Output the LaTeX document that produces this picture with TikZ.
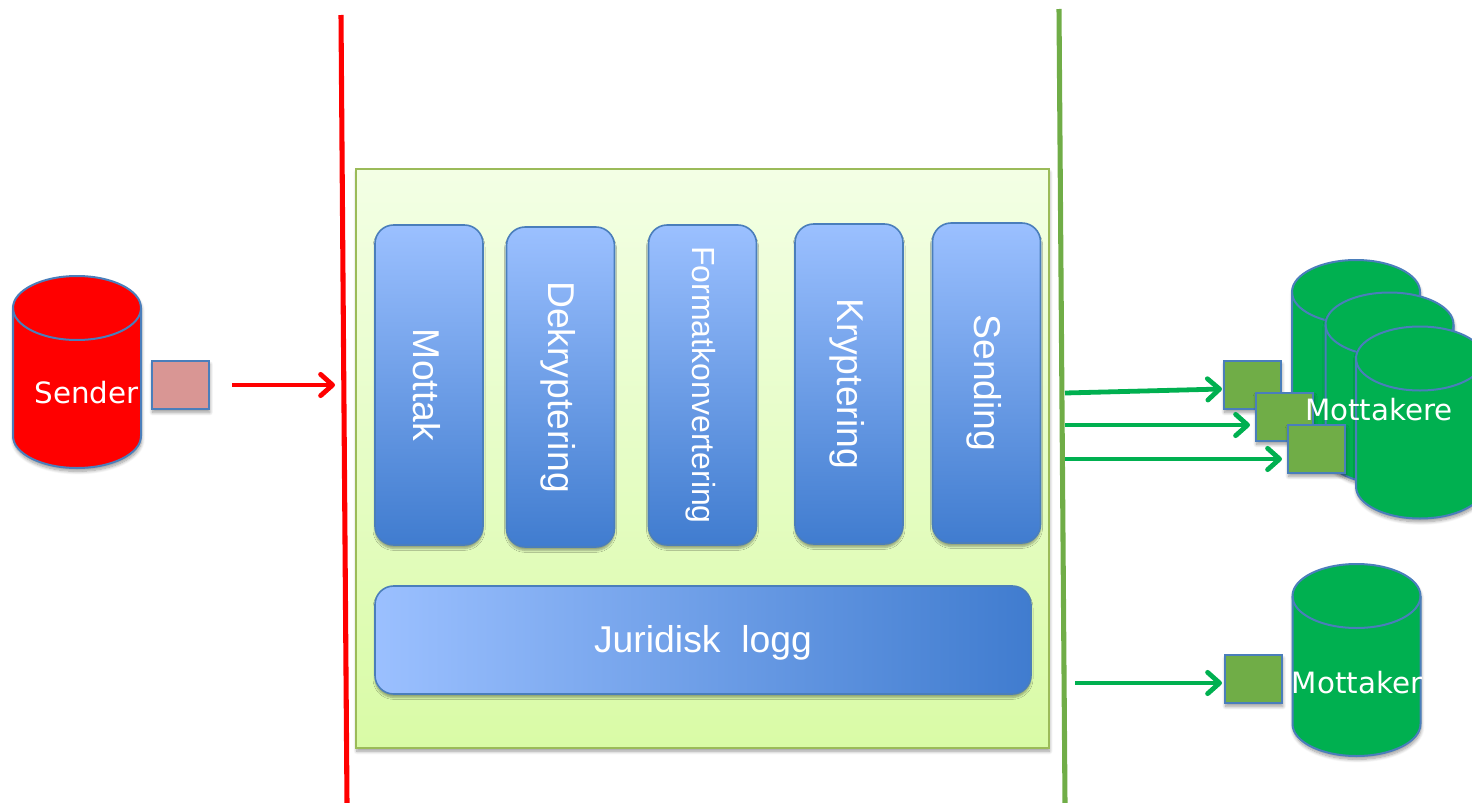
\documentclass[tikz,border=0pt]{standalone}
\usepackage{fontspec}
\usepackage{graphicx}
\setmainfont{Liberation Sans}
\newfontfamily\labelfont{DejaVu Sans}
\usetikzlibrary{arrows.meta, shadows, shadows.blur}

\definecolor{redfill}{HTML}{FF0000}
\definecolor{greenfill}{HTML}{00B050}
\definecolor{edgeblue}{HTML}{4A7EBB}
\definecolor{linegreen}{HTML}{70AD47}
\definecolor{panelline}{HTML}{9BBB59}
\definecolor{msgred}{HTML}{D99694}
\definecolor{stagetop}{HTML}{9BC0FF}
\definecolor{stagebottom}{HTML}{407CCF}
\definecolor{paneltop}{HTML}{F3FFE5}
\definecolor{panelbottom}{HTML}{D9FBA6}

\newcommand{\vtext}[1]{\hspace*{-3pt}\rotatebox{-90}{#1}}

\tikzset{
    softshadow/.style={blur shadow={shadow xshift=0.5pt, shadow yshift=-2.5pt, shadow blur radius=2.5pt, shadow blur steps=8, shadow opacity=40}},
    boxshadow/.style={blur shadow={shadow xshift=0pt, shadow yshift=-2.5pt, shadow blur radius=1.5pt, shadow blur steps=6, shadow opacity=35}},
    drumline/.style={draw=edgeblue, line width=1.5pt},
    stagebase/.style={rectangle, rounded corners=14pt, draw=edgeblue, line width=1.2pt, inner sep=0pt, text=white, font=\fontsize{28}{30}\selectfont, boxshadow},
    stagebox/.style={stagebase, minimum width=81pt, minimum height=240pt, top color=stagetop, bottom color=stagebottom},
    msg/.style={rectangle, draw=edgeblue, line width=1.4pt, inner sep=0pt, minimum width=43pt, minimum height=36pt, softshadow},
    drumlabel/.style={text=white, inner sep=0pt, font=\labelfont\fontsize{22}{24}\selectfont},
    sendarrow/.style={line width=3.6pt, -{Straight Barb[length=9pt, width=16pt, line width=3.6pt, line cap=round, line join=round]}},
}

% name, x, y, colour
\newcommand{\drum}[4]{%
    \coordinate (#1) at (#2, #3);
    \draw[drumline, fill=#4, softshadow] (#1) ++(-64, -64) arc[start angle=180, end angle=0, x radius=48pt, y radius=24pt] -- ++(0, 128) arc[start angle=0, end angle=-180, x radius=48pt, y radius=24pt] -- cycle;
    \draw[drumline] (#1) ++(-64, -64) arc[start angle=180, end angle=360, x radius=48pt, y radius=24pt];
}

\begin{document}
\begin{tikzpicture}[x=0.75pt, y=-0.75pt]
        \useasboundingbox (0, 0) rectangle (1472, 803);
        \clip (0, 0) rectangle (1472, 803);

        %panel
        \node[rectangle, draw=panelline, line width=1.2pt, inner sep=0pt, minimum width=519.5pt, minimum height=434pt, top color=paneltop, bottom color=panelbottom, softshadow] (panel) at (702.5, 458.5) {};

        %stages
        \node[stagebox] (mottak) at (429, 385) {\vtext{Mottak}};
        \node[stagebox] (dekrypt) at (560.5, 387) {\vtext{Dekryptering}};
        \node[stagebox, font=\fontsize{24}{26}\selectfont] (format) at (702.5, 385) {\vtext{Formatkonvertering}};
        \node[stagebox] (krypt) at (849, 384) {\vtext{Kryptering}};
        \node[stagebox] (sending) at (986.5, 383) {\vtext{Sending}};
        \node[stagebase, minimum width=492pt, minimum height=81pt, left color=stagetop, right color=stagebottom] (logg) at (703, 640) {\raisebox{-9.5pt}[0pt][0pt]{Juridisk\ \ logg}};

        %drums
        \drum{sender}{77}{372}{redfill}
        \drum{mottaker1}{1356}{356}{greenfill}
        \drum{mottaker2}{1389.5}{388.5}{greenfill}
        \drum{mottaker3}{1420}{422.5}{greenfill}
        \drum{mottaker}{1356.5}{660}{greenfill}

        %messages
        \node[msg, fill=msgred] (msgout) at (180.5, 385) {};
        \node[msg, fill=linegreen] (msga) at (1252.5, 385) {};
        \node[msg, fill=linegreen] (msgb) at (1284.5, 417) {};
        \node[msg, fill=linegreen] (msgc) at (1316.5, 449) {};
        \node[msg, fill=linegreen] (msgd) at (1253.5, 679) {};

        %labels
        \node[drumlabel] (senderlabel) at (86.5, 393) {Sender};
        \node[drumlabel] (mottakerelabel) at (1379, 410) {Mottakere};
        \node[drumlabel] (mottakerlabel) at (1357, 683) {Mottaker};

        %borders
        \coordinate (redtop) at (341, 15);
        \coordinate (redbottom) at (347, 803);
        \coordinate (greentop) at (1059, 9);
        \coordinate (greenbottom) at (1065, 803);
        \draw[red, line width=3.8pt] (redtop) -- (redbottom);
        \draw[linegreen, line width=3.8pt] (greentop) -- (greenbottom);

        %arrows
        \coordinate (outstart) at (232, 385);
        \coordinate (outend) at (335, 385);
        \coordinate (a1) at (1065, 393);
        \coordinate (a2) at (1222, 389);
        \coordinate (b1) at (1065, 425);
        \coordinate (b2) at (1250, 425);
        \coordinate (c1) at (1065, 459);
        \coordinate (c2) at (1282, 459);
        \coordinate (d1) at (1075, 683);
        \coordinate (d2) at (1222, 683);
        \draw[sendarrow, red] (outstart) -- (outend);
        \draw[sendarrow, greenfill] (a1) -- (a2);
        \draw[sendarrow, greenfill] (b1) -- (b2);
        \draw[sendarrow, greenfill] (c1) -- (c2);
        \draw[sendarrow, greenfill] (d1) -- (d2);
    \end{tikzpicture}
\end{document}
